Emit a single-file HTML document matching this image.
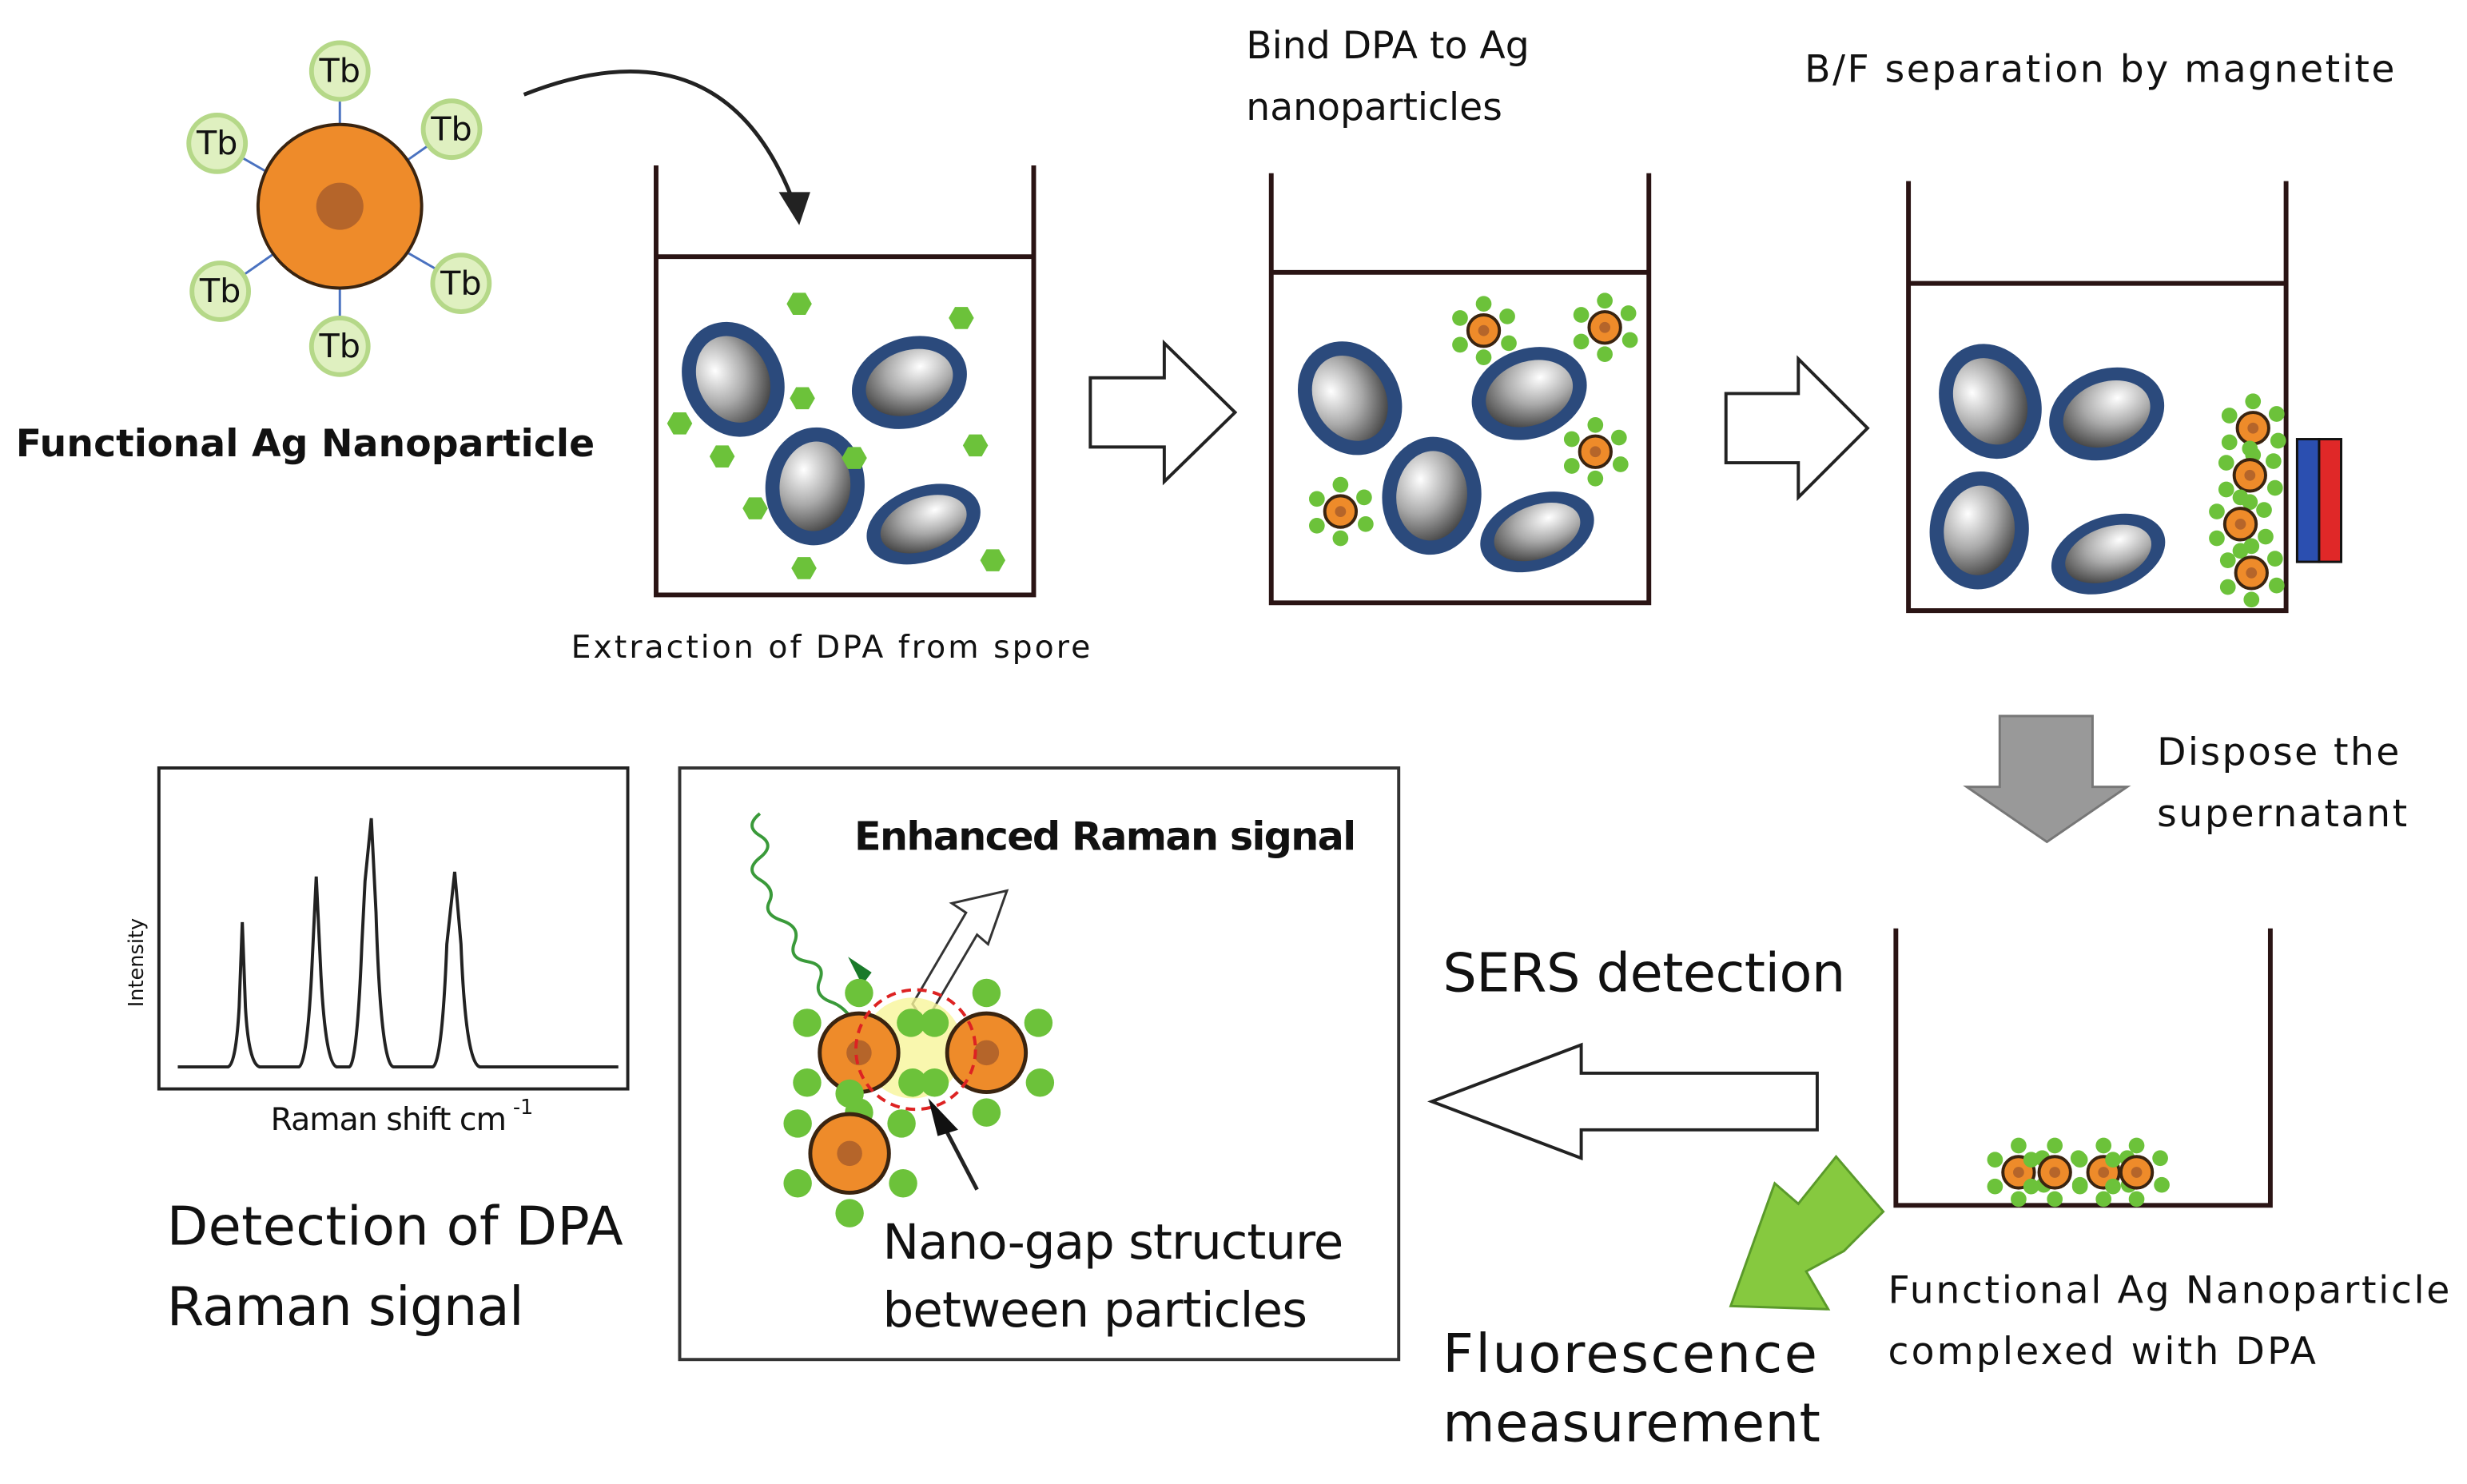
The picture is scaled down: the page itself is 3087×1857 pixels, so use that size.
<!DOCTYPE html>
<html><head><meta charset="utf-8"><style>
html,body{margin:0;padding:0;background:#fff;}
svg{display:block;}
text{font-family:"DejaVu Sans","Liberation Sans",sans-serif;fill:#111;}
</style></head><body>
<svg width="3087" height="1857" viewBox="0 0 1568 943" xmlns="http://www.w3.org/2000/svg">
<defs>
<radialGradient id="sg" cx="0.35" cy="0.35" r="0.75">
<stop offset="0" stop-color="#fff"/><stop offset="0.45" stop-color="#aaa"/><stop offset="1" stop-color="#222"/>
</radialGradient>
<g id="spore"><ellipse cx="0" cy="0" rx="27" ry="33" fill="url(#sg)" stroke="#2b4a7c" stroke-width="9"/></g>
<g id="hex"><polygon points="-8,0 -4,-7 4,-7 8,0 4,7 -4,7" fill="#6cc23a"/></g>
<g id="sp">
<g fill="#6cc23a">
<circle cx="0" cy="-17" r="5"/><circle cx="15" cy="-9" r="5"/><circle cx="16" cy="8" r="5"/>
<circle cx="0" cy="17" r="5"/><circle cx="-15" cy="9" r="5"/><circle cx="-15" cy="-8" r="5"/>
</g>
<circle r="10" fill="#ee8b2a" stroke="#3a2410" stroke-width="2"/><circle r="3.5" fill="#b5652a"/>
</g>
<g id="bigp">
<g fill="#6cc23a">
<circle cx="0" cy="-38" r="9"/><circle cx="33" cy="-19" r="9"/><circle cx="34" cy="19" r="9"/>
<circle cx="0" cy="38" r="9"/><circle cx="-33" cy="19" r="9"/><circle cx="-33" cy="-19" r="9"/>
</g>
<circle r="25" fill="#ee8b2a" stroke="#3a2410" stroke-width="2.5"/><circle r="8" fill="#b5652a"/>
</g>
</defs>

<g stroke="#4a72c0" stroke-width="1.5" fill="none">
<line x1="216" y1="40" x2="216" y2="220"/><line x1="138" y1="91" x2="293" y2="180"/>
<line x1="287" y1="82" x2="140" y2="185"/>
</g>
<circle cx="216" cy="131" r="52" fill="#ee8b2a" stroke="#3a2410" stroke-width="2"/>
<circle cx="216" cy="131" r="15" fill="#b5652a"/>
<g fill="#dff0c0" stroke="#b5d888" stroke-width="3">
<circle cx="216" cy="45" r="18"/><circle cx="138" cy="91" r="18"/><circle cx="287" cy="82" r="18"/>
<circle cx="140" cy="185" r="18"/><circle cx="293" cy="180" r="18"/><circle cx="216" cy="220" r="18"/>
</g>
<g font-size="21" text-anchor="middle" font-family="Liberation Sans Narrow, Liberation Sans, sans-serif">
<text x="216" y="52">Tb</text><text x="138" y="98">Tb</text><text x="287" y="89">Tb</text>
<text x="140" y="192">Tb</text><text x="293" y="187">Tb</text><text x="216" y="227">Tb</text>
</g>
<text x="10" y="290" font-size="24" font-weight="bold" textLength="368">Functional Ag Nanoparticle</text>

<path d="M333,60 Q460,10 505,130" fill="none" stroke="#222" stroke-width="2.5"/>
<polygon points="495,122 515,122 508,143" fill="#222"/>

<path d="M417,105 V378 H657 V105 M417,163 H657" fill="none" stroke="#2a1414" stroke-width="3"/>
<use href="#spore" transform="translate(466,241) rotate(-25)"/>
<use href="#spore" transform="translate(578,243) rotate(70) scale(0.9,1)"/>
<use href="#spore" transform="translate(518,309) rotate(5)"/>
<use href="#spore" transform="translate(587,333) rotate(70) scale(0.75,1)"/>
<use href="#hex" x="508" y="193"/><use href="#hex" x="611" y="202"/><use href="#hex" x="432" y="269"/>
<use href="#hex" x="510" y="253"/><use href="#hex" x="620" y="283"/><use href="#hex" x="459" y="290"/>
<use href="#hex" x="480" y="323"/><use href="#hex" x="543" y="291"/><use href="#hex" x="511" y="361"/>
<use href="#hex" x="631" y="356"/>
<text x="363" y="418" font-size="20" textLength="330">Extraction of DPA from spore</text>

<polygon points="693,240 740,240 740,218 785,262 740,306 740,284 693,284" fill="#fff" stroke="#222" stroke-width="2"/>
<polygon points="1097,250 1143,250 1143,228 1187,272 1143,316 1143,294 1097,294" fill="#fff" stroke="#222" stroke-width="2"/>

<text x="792" y="37" font-size="24">Bind DPA to Ag</text>
<text x="792" y="76" font-size="24">nanoparticles</text>
<path d="M808,110 V383 H1048 V110 M808,173 H1048" fill="none" stroke="#2a1414" stroke-width="3"/>
<use href="#spore" transform="translate(858,253) rotate(-30)"/>
<use href="#spore" transform="translate(972,250) rotate(70) scale(0.9,1)"/>
<use href="#spore" transform="translate(910,315) rotate(5)"/>
<use href="#spore" transform="translate(977,338) rotate(70) scale(0.75,1)"/>
<use href="#sp" x="943" y="210"/><use href="#sp" x="1020" y="208"/><use href="#sp" x="1014" y="287"/><use href="#sp" x="852" y="325"/>

<text x="1147" y="52" font-size="24" textLength="375">B/F separation by magnetite</text>
<path d="M1213,115 V388 H1453 V115 M1213,180 H1453" fill="none" stroke="#2a1414" stroke-width="3"/>
<use href="#spore" transform="translate(1265,255) rotate(-25)"/>
<use href="#spore" transform="translate(1339,263) rotate(70) scale(0.9,1)"/>
<use href="#spore" transform="translate(1258,337) rotate(5)"/>
<use href="#spore" transform="translate(1340,352) rotate(70) scale(0.75,1)"/>
<use href="#sp" x="1432" y="272"/><use href="#sp" x="1430" y="302"/><use href="#sp" x="1424" y="333"/><use href="#sp" x="1431" y="364"/>
<rect x="1460" y="279" width="14" height="78" fill="#2b4fb0" stroke="#111" stroke-width="1.5"/>
<rect x="1474" y="279" width="14" height="78" fill="#e02828" stroke="#111" stroke-width="1.5"/>

<polygon points="1271,455 1330,455 1330,500 1352,500 1301,535 1250,500 1271,500" fill="#999" stroke="#777" stroke-width="1.5"/>
<text x="1371" y="486" font-size="24" textLength="154">Dispose the</text>
<text x="1371" y="525" font-size="24" textLength="159">supernatant</text>

<path d="M1205,590 V766 H1443 V590" fill="none" stroke="#2a1414" stroke-width="3"/>
<use href="#sp" x="1283" y="745"/><use href="#sp" x="1306" y="745"/><use href="#sp" x="1337" y="745"/><use href="#sp" x="1358" y="745"/>
<text x="1200" y="828" font-size="24" textLength="357">Functional Ag Nanoparticle</text>
<text x="1200" y="867" font-size="24" textLength="272">complexed with DPA</text>

<text x="917" y="630" font-size="34" textLength="256">SERS detection</text>
<polygon points="1155,682 1005,682 1005,664 910,700 1005,736 1005,718 1155,718" fill="#fff" stroke="#222" stroke-width="2"/>

<polygon points="1197,770 1167,735 1143,765 1128,752 1100,830 1162,832 1148,808 1172,795" fill="#86c93f" stroke="#5a9a2a" stroke-width="1.5"/>
<text x="917" y="872" font-size="34" textLength="238">Fluorescence</text>
<text x="917" y="916" font-size="34" textLength="240">measurement</text>

<rect x="101" y="488" width="298" height="204" fill="#fff" stroke="#222" stroke-width="2"/>
<path d="M113,678 L145,678 Q150,676 152,640 L154,586 L156,640 Q158,676 165,678 L190,678 Q195,676 198,620 L201,557 L204,620 Q207,676 214,678 L222,678 Q227,676 230,600 L232,560 L236,520 L239,580 Q242,676 250,678 L275,678 Q281,676 284,600 L289,554 L293,600 Q296,676 305,678 L393,678" fill="none" stroke="#222" stroke-width="2"/>
<text x="91" y="640" font-size="13" transform="rotate(-90 91 640)">Intensity</text>
<text x="172" y="718" font-size="20" textLength="150">Raman shift cm</text>
<text x="326" y="708" font-size="13">-1</text>
<text x="106" y="791" font-size="34" textLength="290">Detection of DPA</text>
<text x="106" y="842" font-size="34" textLength="227">Raman signal</text>

<rect x="432" y="488" width="457" height="376" fill="#fff" stroke="#333" stroke-width="2"/>
<text x="543" y="540" font-size="25" font-weight="bold" textLength="319">Enhanced Raman signal</text>
<path d="M483,517 q-10,8 0,14 q10,6 0,14 q-10,8 0,14 q10,6 6,14 q-4,8 8,12 q12,4 8,14 q-4,10 8,12 q12,2 8,12 q-4,10 8,14 q10,4 15,16" fill="none" stroke="#3a9a3a" stroke-width="2"/>
<polygon points="539,608 554,618 548,626" fill="#1a7a2a"/>
<polygon points="580,638 614,580 605,574 640,566 628,600 621,594 588,650" fill="#fff" stroke="#333" stroke-width="1.5"/>
<circle cx="580" cy="666" r="32" fill="#f7f59a" opacity="0.8"/>
<use href="#bigp" x="546" y="669"/>
<use href="#bigp" x="627" y="669"/>
<use href="#bigp" x="540" y="733"/>
<circle cx="582" cy="667" r="38" fill="none" stroke="#dd2222" stroke-width="2" stroke-dasharray="6,4"/>
<line x1="621" y1="756" x2="598" y2="712" stroke="#222" stroke-width="2.5"/>
<polygon points="590,698 609,718 596,722" fill="#111"/>
<text x="561" y="800" font-size="31" textLength="293">Nano-gap structure</text>
<text x="561" y="843" font-size="31" textLength="270">between particles</text>
</svg>
</body></html>
